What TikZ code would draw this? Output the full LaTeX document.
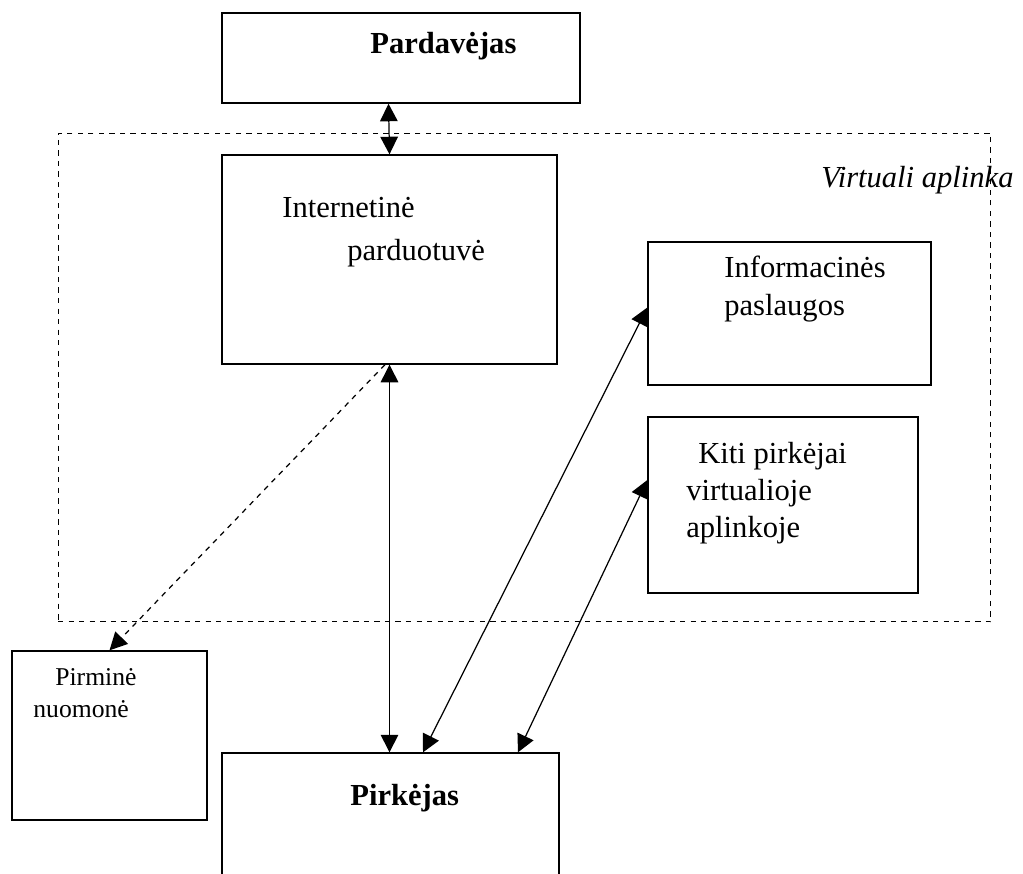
\documentclass[tikz,border=0pt]{standalone}
\usepackage{fontspec}
\setmainfont{Liberation Serif}
\usepackage{tikz}
\usetikzlibrary{arrows.meta, positioning, calc}

\begin{document}
\begin{tikzpicture}[
  x=0.02cm, y=-0.02cm,
  box/.style={rectangle, draw=black, line width=0.8pt, inner sep=0pt},
  txt/.style={font=\fontsize{17.4}{21}\selectfont, anchor=base west, inner sep=0pt},
  small/.style={txt, font=\fontsize{14.6}{18}\selectfont},
  btxt/.style={txt, font=\fontsize{17.4}{21}\selectfont\bfseries},
  arr/.style={line width=0.7pt, -{Triangle[length=10pt, width=10pt]}},
  darr/.style={line width=0.7pt, {Triangle[length=10pt, width=10pt]}-{Triangle[length=10pt, width=10pt]}},
]
  \clip (0,0) rectangle (1023,873);

  % virtual environment frame
  \node[box, dashed, line width=0.6pt, minimum width=18.66cm, minimum height=9.78cm] (virt) at (524.5,377.5) {};
  \node[txt, font=\fontsize{17.4}{21}\selectfont\itshape] (virtlbl) at (821,187) {Virtuali aplinka};

  % boxes
  \node[box, minimum width=7.16cm, minimum height=1.8cm] (pard) at (401,58) {};
  \node[btxt] (pardlbl) at (370,53) {Pardavėjas};

  \node[box, minimum width=6.7cm, minimum height=4.18cm] (inet) at (389.5,259.5) {};
  \node[txt] (inet1) at (282,217) {Internetinė};
  \node[txt] (inet2) at (347,260) {parduotuvė};

  \node[box, minimum width=5.66cm, minimum height=2.86cm] (info) at (789.5,313.5) {};
  \node[txt] (info1) at (724,277) {Informacinės};
  \node[txt] (info2) at (724,315) {paslaugos};

  \node[box, minimum width=5.4cm, minimum height=3.52cm] (kiti) at (783,505) {};
  \node[txt] (kiti1) at (698,463) {Kiti pirkėjai};
  \node[txt] (kiti2) at (686,500) {virtualioje};
  \node[txt] (kiti3) at (686,537) {aplinkoje};

  \node[box, minimum width=3.9cm, minimum height=3.38cm] (pirm) at (109.5,735.5) {};
  \node[small] (pirm1) at (55,685) {Pirminė};
  \node[small] (pirm2) at (33,717) {nuomonė};

  \node[box, minimum width=6.74cm, minimum height=2.94cm] (pirk) at (390.5,826.5) {};
  \node[btxt] (pirklbl) at (350,805) {Pirkėjas};

  % connectors
  \draw[darr] ([xshift=-0.02cm]pard.south -| inet.south) -- (inet.north);
  \draw[darr] (inet.south) -- ([xshift=-0.02cm]pirk.north);
  \draw[arr, dashed] ([xshift=-0.09cm]inet.south) -- (pirm.north);
  \draw[darr] ([xshift=0.65cm]pirk.north) -- ([yshift=0.12cm]info.west);
  \draw[darr] ([xshift=2.55cm]pirk.north) -- ([yshift=0.5cm]kiti.west);
\end{tikzpicture}
\end{document}
